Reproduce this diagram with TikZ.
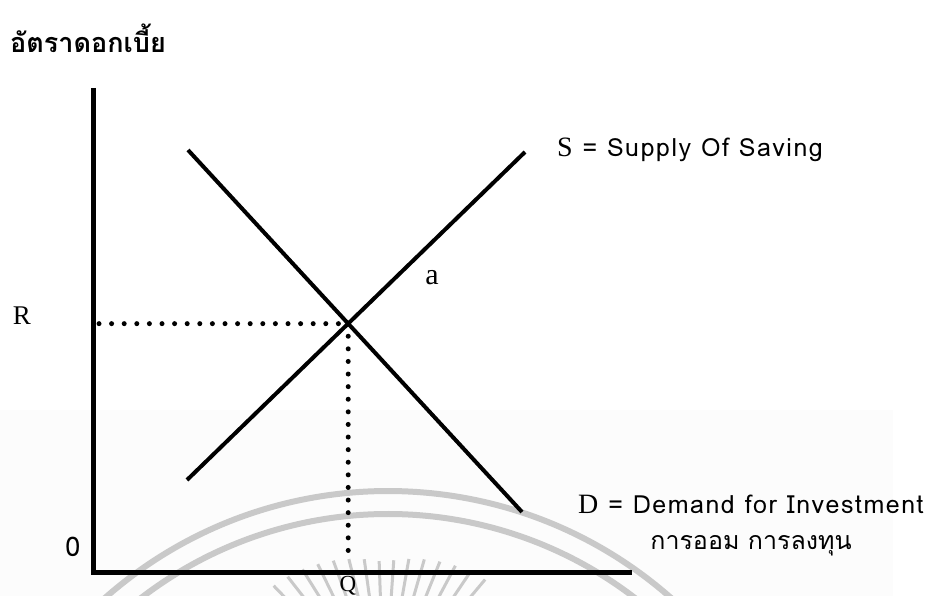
\documentclass[tikz,border=0pt]{standalone}
\usepackage{fontspec}
\setmainfont{Liberation Serif}
\newfontfamily\thaifont[Script=Thai]{Loma}
\newfontfamily\latinsans[LetterSpace=6]{Loma}
\usetikzlibrary{positioning,calc}

\tikzset{
  curve/.style={line width=4pt},
  axisline/.style={line width=5pt},
  dotline/.style={line width=5pt, line cap=round, dash pattern=on 0pt off 12.6pt},
  wmark/.style={gray!42, line width=6pt},
  thaitext/.style={font=\thaifont\fontsize{25}{30}\selectfont, inner sep=0pt},
  sanslab/.style={font=\latinsans\fontsize{25}{30}\selectfont, inner sep=0pt},
  serif/.style={font=\fontsize{27}{30}\selectfont, inner sep=0pt}
}
\newcommand{\serifletter}[1]{{\rmfamily\fontsize{28}{30}\selectfont #1}}

\begin{document}
\begin{tikzpicture}[x=1pt,y=-1pt]
  \useasboundingbox (0,0) rectangle (942,596);
  \fill[black!1] (0,410) rectangle (893,596);
  % watermark
  \coordinate (wm) at (388,919);
  \coordinate (sun) at (384,700);
  \begin{scope}[wmark]
    \draw (wm) ++(228:428) arc (228:312:428);
    \draw (wm) ++(222:405) arc (222:318:405);
    \foreach \a in {226,232,...,314}
      \draw[line width=3pt] (sun) ++(\a:92) -- ++(\a:{46+30*abs(cos(\a))});
  \end{scope}
  % axes
  \coordinate (origin) at (93,572);
  \coordinate (ytop) at (93,88);
  \coordinate (xend) at (632,572);
  \draw[axisline] (ytop) -- (origin) -- (xend);
  % curves
  \coordinate (s0) at (187,480); \coordinate (s1) at (525,152);
  \coordinate (d0) at (188,150); \coordinate (d1) at (522,512);
  \draw[curve] (s0) -- (s1);
  \draw[curve] (d0) -- (d1);
  \coordinate (eq) at (intersection of s0--s1 and d0--d1);
  \coordinate (req) at (origin |- eq);
  \coordinate (qeq) at (eq |- origin);
  \draw[dotline] ($(req)+(6,0)$) -- (eq);
  \draw[dotline] (eq) -- ($(qeq)+(0,-15)$);
  % labels
  \node[anchor=west, inner sep=0pt, font=\thaifont\bfseries\fontsize{27}{32}\selectfont] (title) at (10,38) {อัตราดอกเบี้ย};
  \node[serif] (rlab) at (22,316) {R};
  \node[thaitext, font=\thaifont\fontsize{27}{30}\selectfont] (zero) at (73,547) {0};
  \node[serif, anchor=north, font=\fontsize{23}{26}\selectfont] (qlab) at (348,576) {Q};
  \node[serif, font=\fontsize{30}{32}\selectfont] (alab) at (432,278) {a};
  \node[sanslab, anchor=west] (slab) at (557,150) {\serifletter{S} = Supply Of Saving};
  \node[sanslab, anchor=west] (dlab) at (578,504) {\serifletter{D} = Demand for Investment};
  \node[thaitext] (thlab) at (751,546) {การออม การลงทุน};
\end{tikzpicture}
\end{document}
